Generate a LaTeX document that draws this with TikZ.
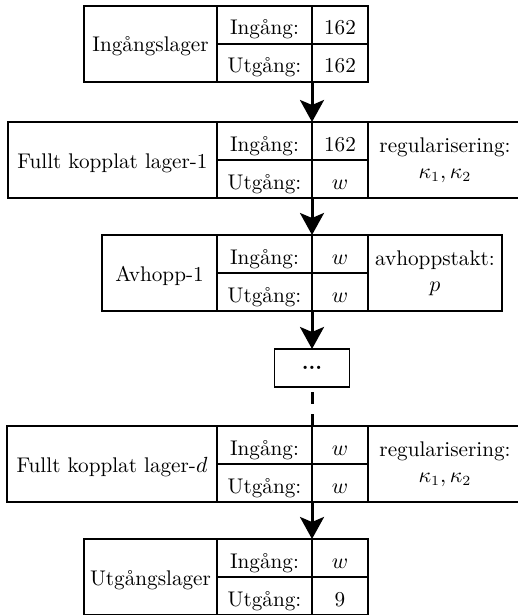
\documentclass[tikz,border=0pt]{standalone}
\usepackage{amsmath,amssymb}
\usepackage{tikz}
\usetikzlibrary{arrows.meta,positioning}

\begin{document}
\begin{tikzpicture}[
    font=\fontsize{10.6pt}{13pt}\selectfont,
    cell/.style={draw,line width=0.95pt,outer sep=0pt,inner sep=2pt,align=center},
    namecell/.style={cell,minimum height=38pt,anchor=north east,
      text height=10.5pt,text depth=2.5pt},
    lbl/.style={cell,minimum width=47.5pt,minimum height=19pt,
      text height=12.5pt,text depth=2.5pt},
    val/.style={lbl,minimum width=28pt},
    extra/.style={cell,minimum height=38pt,anchor=north west},
    dotsbox/.style={cell,minimum width=37.5pt,minimum height=19pt},
    flow/.style={-{Stealth[length=11pt,width=12pt,inset=2.5pt]},line width=1.5pt},
    gap/.style={line width=1.5pt,dash pattern=on 6pt off 5pt,dash phase=8.5pt}
  ]
  \useasboundingbox (0,0) rectangle (259pt,-307.5pt);

  % input layer
  \node[lbl,anchor=north east] (in1) at (156pt,-3pt) {Ingång:};
  \node[lbl,below=0pt of in1] (out1) {Utgång:};
  \node[val,right=0pt of in1] (inv1) {162};
  \node[val,right=0pt of out1] (outv1) {162};
  \node[namecell,minimum width=66.5pt] (name1) at (in1.north west) {Ingångslager};

  % dense layer 1
  \node[lbl,anchor=north east] (in2) at (156pt,-61pt) {Ingång:};
  \node[lbl,below=0pt of in2] (out2) {Utgång:};
  \node[val,right=0pt of in2] (inv2) {162};
  \node[val,right=0pt of out2] (outv2) {$w$};
  \node[namecell,minimum width=104.5pt] (name2) at (in2.north west) {Fullt kopplat lager-1};
  \node[extra,minimum width=77pt] (reg2) at (inv2.north east)
    {regularisering:\\$\kappa_1,\kappa_2$};

  % dropout layer 1
  \node[lbl,anchor=north east] (in3) at (156pt,-117.5pt) {Ingång:};
  \node[lbl,below=0pt of in3] (out3) {Utgång:};
  \node[val,right=0pt of in3] (inv3) {$w$};
  \node[val,right=0pt of out3] (outv3) {$w$};
  \node[namecell,minimum width=57.5pt] (name3) at (in3.north west) {Avhopp-1};
  \node[extra,minimum width=67pt] (rate3) at (inv3.north east)
    {avhoppstakt:\\$p$};

  \node[dotsbox,anchor=north] (dots) at (156pt,-174.5pt) {\textbf{...}};

  % dense layer d
  \node[lbl,anchor=north east] (in4) at (156pt,-213pt) {Ingång:};
  \node[lbl,below=0pt of in4] (out4) {Utgång:};
  \node[val,right=0pt of in4] (inv4) {$w$};
  \node[val,right=0pt of out4] (outv4) {$w$};
  \node[namecell,minimum width=105pt] (name4) at (in4.north west) {Fullt kopplat lager-$d$};
  \node[extra,minimum width=77pt] (reg4) at (inv4.north east)
    {regularisering:\\$\kappa_1,\kappa_2$};

  % output layer
  \node[lbl,anchor=north east] (in5) at (156pt,-269.5pt) {Ingång:};
  \node[lbl,below=0pt of in5] (out5) {Utgång:};
  \node[val,right=0pt of in5] (inv5) {$w$};
  \node[val,right=0pt of out5] (outv5) {9};
  \node[namecell,minimum width=66.5pt] (name5) at (in5.north west) {Utgångslager};

  \draw[flow] (out1.south east) -- (in2.north east);
  \draw[flow] (out2.south east) -- (in3.north east);
  \draw[flow] (out3.south east) -- (dots.north);
  \draw[gap] (dots.south) -- (in4.north east);
  \draw[flow] (out4.south east) -- (in5.north east);
\end{tikzpicture}
\end{document}
